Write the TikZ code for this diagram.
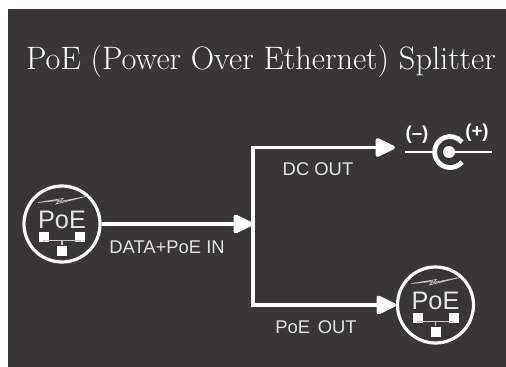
\documentclass[tikz,border=0pt]{standalone}
\usepackage{fontspec}
\setsansfont{Liberation Sans}
\usetikzlibrary{arrows.meta}

\definecolor{panel}{HTML}{383637}
\definecolor{iconline}{HTML}{C8C8C8}
\definecolor{tagtext}{HTML}{E4E4E4}

\tikzset{
  wire/.style={draw=white, line width=2.8pt, -{Triangle[length=16.5pt,width=15pt,round]}},
  badge/.style={circle, draw=white, line width=2.4pt, minimum size=57pt, inner sep=0pt},
  port/.style={fill=white, minimum size=7.5pt, inner sep=0pt},
  tag/.style={text=tagtext, font=\sffamily\fontsize{13.8}{13.8}\selectfont},
  sign/.style={text=white, font=\sffamily\bfseries\fontsize{14}{14}\selectfont},
}

% PoE icon, #1 is the name prefix
\newcommand{\poeicon}[3]{
  \node[badge] (#1) at (#2, #3) {};
  \node[text=tagtext, font=\sffamily\fontsize{19}{19}\selectfont, inner sep=0pt] (#1txt) at (#2, #3-4.5) {PoE};
  \node[port] (#1l) at (#2-18, #3+12.5) {};
  \node[port] (#1r) at (#2+18, #3+12.5) {};
  \node[port] (#1b) at (#2, #3+26.5) {};
  \draw[iconline, line width=.8pt] (#1l.south) -- ++(0, 1pt) -| (#1r.south);
  \draw[iconline, line width=.8pt] (#1b.north) -- ++(0, -5.5);
  \draw[iconline, line width=.5pt, fill=panel] (#2-24, #3-21.5) -- (#2+1, #3-25.5) -- (#2-2, #3-22.5) -- (#2+24, #3-27.5) -- (#2-6, #3-20) -- (#2-3, #3-23.5) -- cycle;
}

\begin{document}
\begin{tikzpicture}[x=.75pt, y=-.75pt]
  \useasboundingbox (0, 0) rectangle (506, 367);
  \fill[panel] (8, 9) rectangle (506, 367);

  % Title
  \node[text=white, font=\fontsize{24.3}{24.3}\selectfont, inner sep=0pt] (title) at (261, 61) {PoE (Power Over Ethernet) Splitter};

  % Badges
  \poeicon{poein}{62}{224}
  \poeicon{poeout}{435.5}{305}

  % DC jack
  \coordinate (jackin) at (405, 152);
  \coordinate (jackout) at (492, 152);
  \node[circle, fill=white, minimum size=9pt, inner sep=0pt] (jack) at (449, 152) {};
  \draw[white, line width=3.6pt] (462, 162) arc (40:320:15.5);
  \draw[white, line width=1.9pt] (jackin) -- (433, 152);
  \draw[white, line width=1.9pt] (jack) -- (jackout);
  \node[sign] (minus) at (417, 135) {(--)};
  \node[sign] (plus) at (477, 133) {(+)};

  % Wires
  \coordinate (fork) at (253, 224);
  \coordinate (dctop) at (253, 147.5);
  \coordinate (poebot) at (253, 305);
  \coordinate (dcend) at (395, 147.5);
  \draw[wire] (poein.east |- fork) -- (fork);
  \draw[wire, -, line cap=rect] (dctop) -- (poebot);
  \draw[wire] (dctop) -- (dcend);
  \draw[wire] (poebot) -- (poeout.west |- poebot);

  % Labels
  \node[tag] (dclabel) at (318, 169) {DC OUT};
  \node[tag] (inlabel) at (167, 247) {DATA+PoE IN};
  \node[tag] (outlabel) at (316, 327) {PoE\hspace{2pt} OUT};
\end{tikzpicture}
\end{document}
